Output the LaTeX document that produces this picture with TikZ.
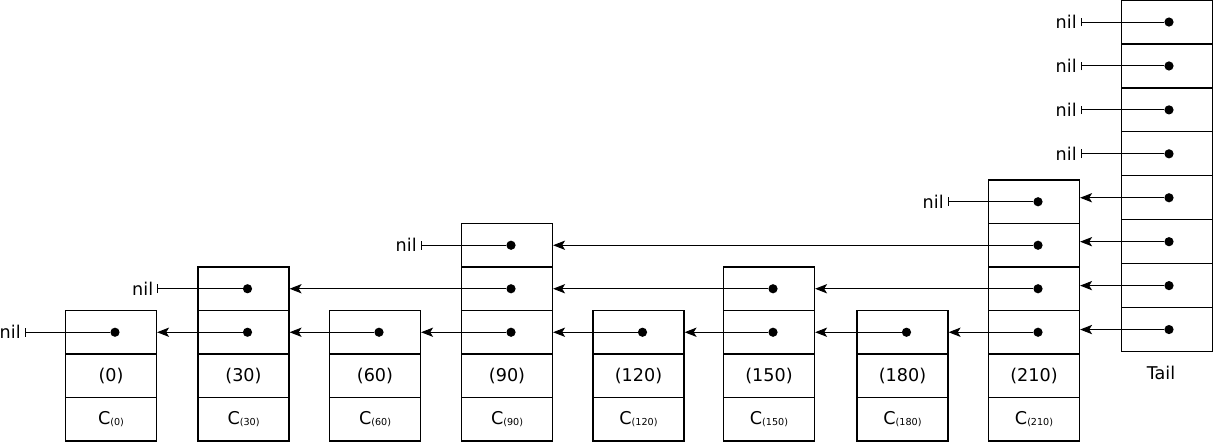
\documentclass[tikz,border=0pt]{standalone}
\usepackage{fontspec}
\setmainfont{DejaVu Sans}
\usetikzlibrary{arrows.meta,calc}

% small index written after the C of a bottom cell
\newcommand{\cidx}[1]{C\raisebox{-0.6pt}{\fontsize{7.2}{8}\selectfont #1}}

\begin{document}
\begin{tikzpicture}[
  x=0.75pt, y=-0.75pt,
  every node/.style={font=\fontsize{13.2}{15}\selectfont},
  cell/.style={draw, line width=0.9pt, inner sep=0pt,
               minimum width=68.25pt, minimum height=32.625pt},
  tailcell/.style={cell, minimum height=32.95pt},
  dotn/.style={circle, fill, inner sep=0pt, minimum size=6.9pt},
  ptr/.style={line width=0.75pt, -{Stealth[length=9pt,width=7pt,inset=2.2pt]}},
  nilptr/.style={line width=0.75pt, -{Bar[width=6.5pt]}},
  niltext/.style={anchor=east, inner sep=0pt}
]
\useasboundingbox (0,0) rectangle (1213,442);

% columns of the list: key / centre x / number of levels
\foreach \v/\cx/\n in {0/111/1, 30/243.5/2, 60/375/1, 90/507/3,
                       120/638.5/1, 150/769/2, 180/902.5/1, 210/1034/4}{
  \node[cell] (c\v-C) at (\cx,419.25) {\cidx{(\v)}};
  \node[cell] (c\v-V) at (\cx,375.75) {(\v)};
  \foreach \l in {1,...,\n}{
    \node[cell] (c\v-\l) at ({\cx},{332.25-43.5*(\l-1)}) {};
    \node[dotn] (d\v-\l) at ([xshift=3pt]c\v-\l.center) {};
  }
}

% the tail column
\foreach \l in {1,...,8}{
  \node[tailcell] (cT-\l) at (1167,{329.55-43.93*(\l-1)}) {};
  \node[dotn] (dT-\l) at ([xshift=1.5pt]cT-\l.center) {};
}
\node (tail) at (1161,373) {Tail};

% forward pointers, level by level
\foreach \a/\b in {T/210, 210/180, 180/150, 150/120, 120/90, 90/60, 60/30, 30/0}{
  \draw[ptr] (d\a-1) -- (d\a-1 -| c\b-1.east);
}
\foreach \a/\b in {T/210, 210/150, 150/90, 90/30}{
  \draw[ptr] (d\a-2) -- (d\a-2 -| c\b-2.east);
}
\foreach \a/\b in {T/210, 210/90}{
  \draw[ptr] (d\a-3) -- (d\a-3 -| c\b-3.east);
}
\draw[ptr] (dT-4) -- (dT-4 -| c210-4.east);

% pointers that end in nil
\foreach \a/\l in {0/1, 30/2, 90/3, 210/4, T/5, T/6, T/7, T/8}{
  \coordinate (nil\a-\l) at ($(c\a-\l.west |- d\a-\l)+(-40,0)$);
  \draw[nilptr] (d\a-\l) -- (nil\a-\l);
  \node[niltext] (niltxt\a-\l) at ($(nil\a-\l)+(-4,0)$) {nil};
}
\end{tikzpicture}
\end{document}
